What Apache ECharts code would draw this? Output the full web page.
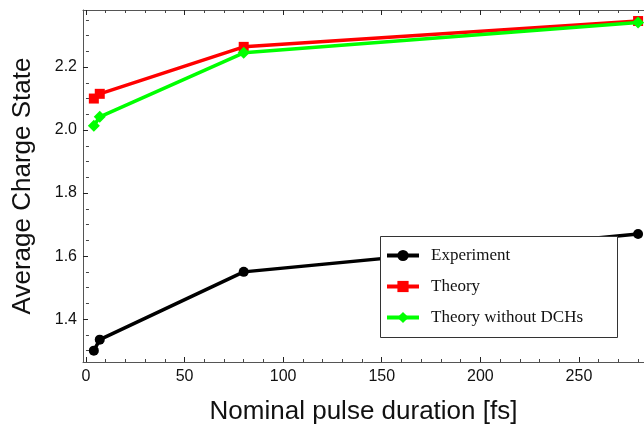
<!DOCTYPE html>
<html>
<head>
<meta charset="utf-8">
<script src="https://cdn.jsdelivr.net/npm/echarts@6/dist/echarts.min.js"></script>
<style>
html,body{margin:0;padding:0;background:#fff;}
#chart{width:644px;height:425px;}
</style>
</head>
<body>
<div id="chart"></div>
<script>
// Data
var durations = [4, 7, 80, 280];
var experiment = [1.30, 1.335, 1.55, 1.67];
var theory = [2.10, 2.115, 2.264, 2.346];
var theoryNoDCH = [2.014, 2.042, 2.245, 2.341];
var seriesNames = ['Experiment', 'Theory', 'Theory without DCHs'];

// Tick labels / positions
var xMajor = [0, 50, 100, 150, 200, 250];
var xMinor = [10, 20, 30, 40, 60, 70, 80, 90, 110, 120, 130, 140, 160, 170, 180, 190, 210, 220, 230, 240, 260, 270, 280];
var yMajor = [1.4, 1.6, 1.8, 2.0, 2.2];
var yMinor = [1.3, 1.35, 1.45, 1.5, 1.55, 1.65, 1.7, 1.75, 1.85, 1.9, 1.95, 2.05, 2.1, 2.15, 2.25, 2.3, 2.35];

function pairs(xs, ys) { return xs.map(function (x, i) { return [x, ys[i]]; }); }

var X_MIN = -1.5, X_MAX = 283, Y_MIN = 1.264, Y_MAX = 2.381;
var frameColor = '#555';
var sans = 'Liberation Sans, Arial, sans-serif';

function xAx(extra) {
  return Object.assign({
    type: 'value', min: X_MIN, max: X_MAX, gridIndex: 0,
    axisLine: { show: false, lineStyle: { color: frameColor, width: 1 } },
    axisTick: { show: false },
    axisLabel: { show: false },
    splitLine: { show: false }
  }, extra);
}
function yAx(extra) {
  return Object.assign({
    type: 'value', min: Y_MIN, max: Y_MAX, gridIndex: 0,
    axisLine: { show: false, lineStyle: { color: frameColor, width: 1 } },
    axisTick: { show: false },
    axisLabel: { show: false },
    splitLine: { show: false }
  }, extra);
}

var chart = echarts.init(document.getElementById('chart'), null, { renderer: 'canvas' });
chart.setOption({
  animation: false,
  backgroundColor: '#fff',
  grid: { left: 83, top: 10, right: 0, bottom: 63, containLabel: false, outerBoundsMode: 'none' },
  xAxis: [
    xAx({
      position: 'bottom',
      axisLine: { show: true, onZero: false, lineStyle: { color: frameColor, width: 1 } },
      axisTick: { show: true, inside: true, length: 5, customValues: xMajor, lineStyle: { color: '#222' } },
      axisLabel: { show: true, customValues: xMajor, margin: 7, fontSize: 16, color: '#111', fontFamily: sans,
        formatter: function (v) { return String(Math.round(v)); } },
      name: 'Nominal pulse duration [fs]', nameLocation: 'middle', nameGap: 37,
      nameTextStyle: { fontSize: 26, color: '#111', fontFamily: sans }
    }),
    xAx({ position: 'bottom', axisTick: { show: true, inside: true, length: 3, customValues: xMinor, lineStyle: { color: '#444' } } }),
    xAx({ position: 'top',
      axisLine: { show: true, onZero: false, lineStyle: { color: frameColor, width: 1 } },
      axisTick: { show: true, inside: true, length: 5, customValues: xMajor, lineStyle: { color: '#222' } } }),
    xAx({ position: 'top', axisTick: { show: true, inside: true, length: 3, customValues: xMinor, lineStyle: { color: '#444' } } })
  ],
  yAxis: [
    yAx({
      position: 'left',
      axisLine: { show: true, onZero: false, lineStyle: { color: frameColor, width: 1 } },
      axisTick: { show: true, inside: true, length: 5, customValues: yMajor, lineStyle: { color: '#222' } },
      axisLabel: { show: true, customValues: yMajor, margin: 6, fontSize: 16, color: '#111', fontFamily: sans,
        formatter: function (v) { return v.toFixed(1); } },
      name: 'Average Charge State', nameLocation: 'middle', nameGap: 47,
      nameTextStyle: { fontSize: 26, color: '#111', fontFamily: sans }
    }),
    yAx({ position: 'left', axisTick: { show: true, inside: true, length: 3, customValues: yMinor, lineStyle: { color: '#444' } } })
  ],
  graphic: [{
    type: 'rect', z: 50, silent: true,
    shape: { x: 380.5, y: 236.5, width: 237, height: 101 },
    style: { fill: '#fff', stroke: '#333', lineWidth: 1 }
  }],
  legend: {
    z: 60,
    orient: 'vertical', left: 385, top: 247,
    itemWidth: 32, itemHeight: 14, itemGap: 14,
    padding: 0,
    data: seriesNames,
    lineStyle: { width: 4 },
    textStyle: { fontFamily: 'Liberation Serif, Times New Roman, serif', fontSize: 17, color: '#111', padding: [0, 0, 0, 7] }
  },
  series: [
    {
      name: seriesNames[0], type: 'line', data: pairs(durations, experiment),
      symbol: 'circle', symbolSize: 10,
      lineStyle: { color: '#000', width: 3.5 }, itemStyle: { color: '#000' }, z: 3
    },
    {
      name: seriesNames[1], type: 'line', data: pairs(durations, theory),
      symbol: 'rect', symbolSize: 10,
      lineStyle: { color: '#ff0000', width: 3.5 }, itemStyle: { color: '#ff0000' }, z: 4
    },
    {
      name: seriesNames[2], type: 'line', data: pairs(durations, theoryNoDCH),
      symbol: 'path://M0,-1L1,0L0,1L-1,0Z', symbolSize: 12,
      lineStyle: { color: '#00ff00', width: 3.5 }, itemStyle: { color: '#00ff00' }, z: 5
    }
  ]
});
</script>
</body>
</html>
